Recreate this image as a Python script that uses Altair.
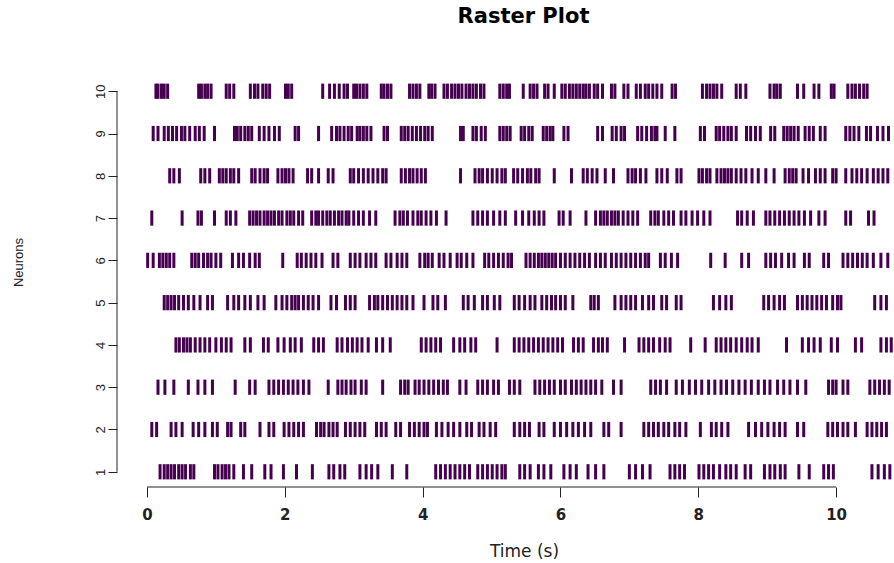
import altair as alt
import pandas as pd

# ---- data: spike times (s) per neuron ----
neuron_1 = [0.19, 0.25, 0.30, 0.35, 0.40, 0.46, 0.51, 0.56, 0.63, 0.68,
            0.98, 1.03, 1.09, 1.14, 1.19, 1.26, 1.40, 1.52, 1.71, 1.80, 1.98, 2.17, 2.40,
            2.64, 2.71, 2.80, 2.87, 3.09, 3.18, 3.26, 3.35, 3.56, 3.77,
            4.19, 4.26, 4.33, 4.40, 4.47, 4.54, 4.61, 4.68, 4.80, 4.87, 4.94, 5.01, 5.08, 5.15, 5.20,
            5.41, 5.48, 5.56, 5.68, 5.76, 5.86, 6.05, 6.14, 6.23, 6.40, 6.51, 6.63,
            7.00, 7.09, 7.19, 7.30, 7.59, 7.66, 7.73, 7.80,
            8.01, 8.08, 8.15, 8.22, 8.31, 8.40, 8.47, 8.55, 8.68, 8.76,
            8.96, 9.04, 9.11, 9.19, 9.26, 9.46, 9.61, 9.82, 9.89, 9.96,
            10.52, 10.61, 10.70, 10.78]
neuron_2 = [0.07, 0.14, 0.35, 0.42, 0.51, 0.67, 0.75, 0.84, 0.95, 1.02, 1.17, 1.22, 1.36, 1.42,
            1.64, 1.77, 1.84, 1.99, 2.06, 2.13, 2.20, 2.27, 2.46, 2.52, 2.57, 2.64, 2.70, 2.76,
            2.88, 2.95, 3.02, 3.09, 3.16, 3.33, 3.40, 3.47, 3.61, 3.68,
            3.81, 3.88, 3.95, 4.02, 4.07, 4.20, 4.28, 4.37, 4.45, 4.54, 4.64, 4.71,
            4.82, 4.89, 4.98, 5.06, 5.33, 5.41, 5.48, 5.55, 5.69, 5.76,
            5.91, 6.00, 6.09, 6.18, 6.26, 6.35, 6.44, 6.63, 6.70, 6.88,
            7.21, 7.28, 7.35, 7.42, 7.50, 7.57, 7.66, 7.73, 7.82, 8.03,
            8.19, 8.26, 8.34, 8.43, 8.73, 8.83, 8.92, 9.01, 9.10, 9.18, 9.26, 9.44, 9.53,
            9.88, 9.95, 10.02, 10.10, 10.17, 10.28, 10.45, 10.52, 10.59, 10.66, 10.73]
neuron_3 = [0.16, 0.26, 0.39, 0.60, 0.74, 0.84, 0.95, 1.28, 1.49, 1.57,
            1.77, 1.84, 1.91, 1.98, 2.05, 2.12, 2.19, 2.27, 2.35, 2.63,
            2.77, 2.83, 2.89, 2.96, 3.02, 3.11, 3.18, 3.42,
            3.68, 3.74, 3.79, 3.89, 3.95, 4.02, 4.09, 4.16, 4.23, 4.30, 4.36, 4.54, 4.63,
            4.80, 4.87, 4.94, 5.03, 5.10, 5.26, 5.33, 5.41,
            5.63, 5.70, 5.77, 5.84, 5.91, 6.00, 6.07, 6.16, 6.23, 6.30, 6.37, 6.44, 6.51, 6.60,
            6.77, 6.88, 7.31, 7.38, 7.45, 7.54, 7.68, 7.77, 7.87, 7.96, 8.05,
            8.15, 8.24, 8.33, 8.41, 8.50, 8.59, 8.68, 8.77, 8.87, 8.96, 9.04, 9.15, 9.24, 9.33, 9.44, 9.56,
            9.89, 9.95, 10.00, 10.10, 10.17, 10.49, 10.56, 10.63, 10.70, 10.77]
neuron_4 = [0.42, 0.47, 0.53, 0.58, 0.63, 0.70, 0.77, 0.84, 0.91, 1.00, 1.08, 1.15, 1.22,
            1.42, 1.50, 1.69, 1.76, 1.90, 1.99, 2.08, 2.15, 2.24, 2.42, 2.49, 2.56,
            2.76, 2.83, 2.91, 2.98, 3.05, 3.12, 3.21, 3.33, 3.42, 3.53,
            3.98, 4.05, 4.12, 4.19, 4.26, 4.45, 4.54, 4.61, 4.70, 4.77, 5.08,
            5.33, 5.40, 5.47, 5.54, 5.61, 5.68, 5.75, 5.82, 5.89, 5.96, 6.03,
            6.19, 6.26, 6.33, 6.48, 6.55, 6.61, 6.68, 6.93,
            7.14, 7.21, 7.28, 7.35, 7.44, 7.52, 7.59, 7.89, 8.10,
            8.26, 8.33, 8.40, 8.47, 8.55, 8.63, 8.71, 8.78, 8.87, 9.28,
            9.51, 9.60, 9.68, 9.77, 9.93, 10.02, 10.28, 10.37, 10.65, 10.73, 10.80]
neuron_5 = [0.25, 0.30, 0.35, 0.40, 0.46, 0.53, 0.60, 0.68, 0.77, 0.88, 0.95,
            1.17, 1.26, 1.33, 1.42, 1.50, 1.61, 1.70,
            1.87, 1.96, 2.03, 2.10, 2.15, 2.20, 2.27, 2.34, 2.41, 2.49, 2.67, 2.75,
            2.88, 2.95, 3.02, 3.23, 3.30, 3.35, 3.42, 3.49, 3.56, 3.63, 3.70, 3.77, 3.86,
            4.02, 4.15, 4.22, 4.33, 4.59, 4.66, 4.75, 4.87, 4.94, 5.04, 5.12,
            5.33, 5.40, 5.48, 5.56, 5.63, 5.73, 5.80, 5.87, 5.93, 6.00, 6.07, 6.18,
            6.44, 6.49, 6.55, 6.79, 6.88, 6.95, 7.02, 7.09, 7.19, 7.28, 7.35, 7.47, 7.54, 7.68, 7.75,
            8.22, 8.31, 8.40, 8.48, 8.95, 9.02, 9.10, 9.18, 9.25,
            9.44, 9.51, 9.58, 9.65, 9.72, 9.79, 9.86, 9.95, 10.02, 10.07,
            10.56, 10.65, 10.73]
neuron_6 = [0.01, 0.09, 0.18, 0.23, 0.28, 0.33, 0.39, 0.65, 0.70, 0.75, 0.82, 0.88, 0.93, 1.00, 1.07,
            1.24, 1.33, 1.40, 1.49, 1.57, 1.63, 1.97, 2.18, 2.24, 2.31, 2.38, 2.45, 2.54, 2.70, 2.77,
            2.95, 3.02, 3.09, 3.18, 3.25, 3.32, 3.47, 3.54, 3.63, 3.70, 3.77,
            3.96, 4.03, 4.08, 4.14, 4.24, 4.31, 4.40, 4.50, 4.56, 4.64, 4.73,
            4.90, 4.96, 5.03, 5.10, 5.17, 5.24, 5.29,
            5.50, 5.56, 5.62, 5.68, 5.73, 5.78, 5.83, 5.88, 5.93, 6.00, 6.07, 6.14, 6.21, 6.28, 6.35, 6.42,
            6.51, 6.58, 6.65, 6.74, 6.81, 6.88, 6.95, 7.02, 7.09, 7.16, 7.23, 7.28,
            7.45, 7.52, 7.61, 7.70, 8.18, 8.39, 8.63, 8.73,
            8.98, 9.05, 9.12, 9.21, 9.31, 9.39, 9.54, 9.61, 9.82, 9.89,
            10.10, 10.17, 10.24, 10.31, 10.38, 10.45, 10.54, 10.65, 10.75]
neuron_7 = [0.07, 0.51, 0.74, 0.79, 0.98, 1.15, 1.21, 1.29,
            1.49, 1.54, 1.59, 1.64, 1.70, 1.75, 1.80, 1.85, 1.91, 1.96, 2.03, 2.08, 2.13, 2.20, 2.26,
            2.39, 2.45, 2.49, 2.55, 2.61, 2.66, 2.72, 2.78, 2.83, 2.89, 2.93, 3.00, 3.07, 3.14, 3.23, 3.32,
            3.60, 3.67, 3.72, 3.78, 3.86, 3.93, 3.98, 4.05, 4.12, 4.20, 4.34,
            4.73, 4.80, 4.87, 4.94, 5.03, 5.12, 5.20, 5.35, 5.45, 5.54, 5.62, 5.69, 5.76,
            5.98, 6.04, 6.14, 6.37,
            6.51, 6.58, 6.63, 6.68, 6.74, 6.79, 6.84, 6.91, 6.98, 7.05, 7.12,
            7.31, 7.37, 7.42, 7.50, 7.57, 7.64, 7.75, 7.82, 7.91, 7.99, 8.08, 8.17,
            8.57, 8.63, 8.71, 8.80, 8.98, 9.04, 9.11, 9.18, 9.25, 9.32, 9.39, 9.46, 9.54, 9.63,
            9.75, 9.84, 10.14, 10.21, 10.47, 10.55]
neuron_8 = [0.33, 0.39, 0.47, 0.78, 0.84, 0.91, 1.05, 1.10, 1.15, 1.21, 1.26, 1.33,
            1.52, 1.57, 1.64, 1.70, 1.75, 1.90, 1.96, 2.01, 2.06, 2.12, 2.33, 2.39, 2.49, 2.63, 2.70,
            2.95, 3.00, 3.07, 3.14, 3.21, 3.28, 3.35, 3.42, 3.47,
            3.69, 3.75, 3.81, 3.86, 3.92, 3.98, 4.04, 4.55,
            4.76, 4.82, 4.87, 4.94, 5.01, 5.08, 5.15, 5.20, 5.32, 5.38, 5.45, 5.52, 5.57, 5.64, 5.69,
            5.91, 6.16, 6.33, 6.39, 6.46, 6.53, 6.65, 6.77, 6.98, 7.04, 7.09, 7.16, 7.24,
            7.40, 7.47, 7.55, 7.69, 7.75,
            8.01, 8.06, 8.12, 8.17, 8.27, 8.33, 8.38, 8.43, 8.48, 8.55, 8.62, 8.69, 8.78, 8.87,
            8.98, 9.10, 9.26, 9.32, 9.37, 9.42, 9.52, 9.60, 9.70, 9.77, 9.84, 9.95, 10.00,
            10.14, 10.23, 10.30, 10.37, 10.45, 10.54, 10.61, 10.68, 10.75]
neuron_9 = [0.09, 0.16, 0.25, 0.31, 0.37, 0.43, 0.50, 0.55, 0.62, 0.70, 0.76, 0.83, 0.98,
            1.27, 1.31, 1.36, 1.42, 1.47, 1.52, 1.63, 1.70, 1.77, 1.85, 1.92, 2.15, 2.20,
            2.49, 2.68, 2.75, 2.80, 2.86, 2.92, 2.97, 3.05, 3.09, 3.14, 3.19, 3.25, 3.44, 3.49,
            3.69, 3.74, 3.79, 3.85, 3.91, 3.97, 4.03, 4.08, 4.14, 4.55, 4.59, 4.73, 4.78, 4.85, 4.91,
            5.12, 5.17, 5.22, 5.27, 5.43, 5.48, 5.54, 5.59, 5.75, 5.80, 5.85, 5.89, 6.05, 6.11,
            6.54, 6.61, 6.75, 6.81, 6.88, 6.93, 7.12, 7.18, 7.25, 7.32, 7.37, 7.40, 7.52, 7.66,
            8.03, 8.09, 8.26, 8.31, 8.37, 8.43, 8.48, 8.55, 8.70, 8.76, 8.83, 8.90, 9.05, 9.11,
            9.24, 9.29, 9.34, 9.39, 9.45, 9.55, 9.61, 9.67, 9.77, 9.84,
            10.14, 10.20, 10.26, 10.33, 10.44, 10.50, 10.60, 10.68, 10.76]
neuron_10 = [0.13, 0.16, 0.21, 0.25, 0.30, 0.75, 0.79, 0.84, 0.88, 0.93, 1.15, 1.20, 1.26,
             1.50, 1.56, 1.61, 1.68, 1.73, 1.78, 2.01, 2.05, 2.10,
             2.55, 2.65, 2.72, 2.79, 2.86, 2.91, 3.00, 3.04, 3.09, 3.14, 3.19, 3.40, 3.44, 3.49, 3.54,
             3.81, 3.86, 3.91, 3.96, 4.09, 4.13, 4.18,
             4.31, 4.36, 4.42, 4.47, 4.52, 4.57, 4.63, 4.68, 4.73, 4.78, 4.84, 4.89,
             5.12, 5.17, 5.22, 5.26, 5.46, 5.56, 5.61, 5.66, 5.77, 5.82, 5.91,
             6.02, 6.07, 6.13, 6.18, 6.23, 6.28, 6.33, 6.37, 6.42, 6.49, 6.54, 6.61, 6.74, 6.79, 6.92, 6.98,
             7.10, 7.16, 7.23, 7.28, 7.34, 7.40, 7.47, 7.62, 7.67,
             8.06, 8.12, 8.17, 8.22, 8.27, 8.34, 8.55, 8.61, 8.69,
             9.04, 9.10, 9.14, 9.19, 9.44, 9.53, 9.68, 9.75, 9.93, 9.97,
             10.17, 10.23, 10.28, 10.34, 10.40, 10.45]

neurons = [neuron_1, neuron_2, neuron_3, neuron_4, neuron_5,
           neuron_6, neuron_7, neuron_8, neuron_9, neuron_10]
x_ticks = [0, 2, 4, 6, 8, 10]
y_ticks = [1, 2, 3, 4, 5, 6, 7, 8, 9, 10]

df = pd.DataFrame(
    [{"time": t, "neuron": i + 1} for i, ts in enumerate(neurons) for t in ts]
)
x_line = pd.DataFrame({"start": [min(x_ticks)], "end": [max(x_ticks)]})
y_line = pd.DataFrame({"start": [min(y_ticks)], "end": [max(y_ticks)]})

FONT = "Liberation Sans"
WIDE = "DejaVu Sans"
INK = "#222222"
PLOT_W, PLOT_H = 777, 411

x_scale = alt.Scale(domain=[-0.435, 10.84], nice=False, zero=False)
y_scale = alt.Scale(domain=[0.64, 10.36], nice=False, zero=False)

x_axis = alt.Axis(
    values=x_ticks, domain=False, grid=False, tickSize=10,
    tickColor=INK, tickWidth=1, labelFont=WIDE, labelFontSize=15,
    labelFontWeight="bold", labelColor=INK, labelPadding=10,
    title="Time (s)", titleFont=WIDE, titleFontSize=17,
    titleFontWeight="normal", titleColor=INK,
    titleX=407, titleY=64, titleBaseline="middle",
)
y_axis = alt.Axis(
    values=y_ticks, domain=False, grid=False, tickSize=9,
    tickColor=INK, tickWidth=1, labelFont=FONT, labelFontSize=13,
    labelColor=INK, labelAngle=270, labelAlign="center",
    labelBaseline="bottom", labelPadding=1,
    title="Neurons", titleFont=FONT, titleFontSize=13,
    titleFontWeight="normal", titleColor=INK,
    titleX=-99, titleY=186, titleAngle=270, titleBaseline="middle",
    titleAlign="center",
)

spikes = (
    alt.Chart(df)
    .transform_calculate(lo="datum.neuron - 0.18", hi="datum.neuron + 0.18")
    .mark_rule(color="#460050", strokeWidth=3, clip=True)
    .encode(
        x=alt.X("time:Q", scale=x_scale, axis=x_axis),
        y=alt.Y("lo:Q", scale=y_scale, axis=y_axis),
        y2="hi:Q",
    )
)

x_axis_line = (
    alt.Chart(x_line)
    .mark_rule(color=INK, strokeWidth=1)
    .encode(x=alt.X("start:Q", scale=x_scale, axis=x_axis), x2="end:Q",
            y=alt.value(PLOT_H))
)
y_axis_line = (
    alt.Chart(y_line)
    .mark_rule(color=INK, strokeWidth=1)
    .encode(y=alt.Y("start:Q", scale=y_scale, axis=y_axis), y2="end:Q",
            x=alt.value(0))
)

chart = (
    alt.layer(spikes, x_axis_line, y_axis_line)
    .properties(
        width=PLOT_W,
        height=PLOT_H,
        autosize=alt.AutoSizeParams(type="none"),
        padding={"left": 117, "top": 76, "right": 0, "bottom": 76},
        title=alt.TitleParams(
            "Raster Plot", font=WIDE, fontSize=21, fontWeight="bold",
            color="black", anchor="middle", dx=18, offset=49,
        ),
    )
    .configure(background="white")
    .configure_view(stroke=None)
)

chart.save("out.html", embed_options={"renderer": "svg", "actions": False})
